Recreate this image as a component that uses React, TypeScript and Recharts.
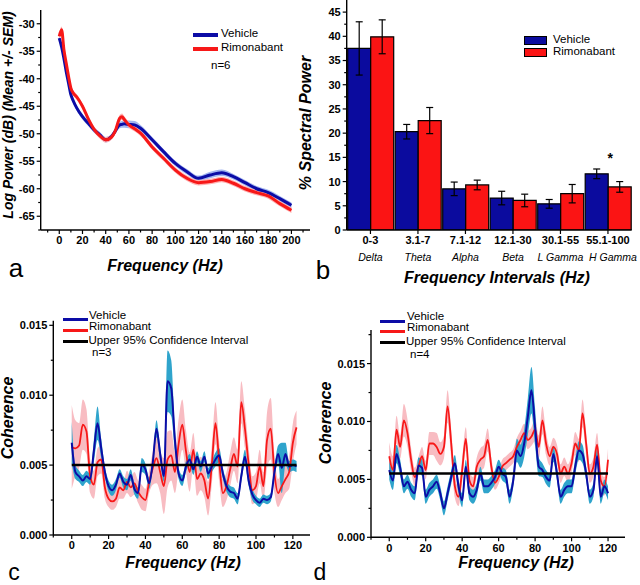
import type { ReactNode } from 'react';
import {
  ComposedChart,
  BarChart,
  Bar,
  Line,
  Area,
  XAxis,
  YAxis,
  ErrorBar,
  LabelList,
  ReferenceLine,
} from 'recharts';

const FONT = '"Liberation Sans", Arial, Helvetica, sans-serif';

// ---- panel a: power spectrum (dB)
const psdFreq = [0, 2, 4, 6, 8, 10, 12, 15, 20, 25, 30, 35, 40, 45, 48, 52, 54, 56, 60, 65, 70, 80, 90, 100, 110, 120, 130, 140, 150, 160, 170, 180, 190, 200];
const psdVehicle = [-32.6, -34.2, -36.3, -38.7, -40.8, -42.9, -44.0, -45.3, -46.9, -48.1, -49.3, -50.2, -51.1, -50.5, -49.6, -48.4, -48.3, -48.2, -48.3, -48.4, -49.0, -51.1, -53.3, -55.4, -56.9, -58.1, -57.5, -57.1, -57.8, -58.9, -60.0, -60.7, -61.8, -63.0];
const psdVehicleSem = [0.5, 0.5, 0.5, 0.5, 0.5, 0.5, 0.5, 0.5, 0.5, 0.5, 0.5, 0.5, 0.5, 0.5, 0.5, 0.6, 0.6, 0.7, 0.7, 0.7, 0.6, 0.5, 0.5, 0.5, 0.5, 0.5, 0.6, 0.6, 0.5, 0.5, 0.5, 0.5, 0.5, 0.5];
const psdRimo = [-32.3, -31.1, -34.7, -37.2, -39.6, -41.7, -42.6, -43.3, -45.0, -47.3, -49.2, -50.4, -51.1, -50.6, -49.6, -47.2, -46.9, -47.4, -48.4, -49.1, -49.9, -52.4, -54.5, -56.6, -58.1, -58.9, -58.7, -58.3, -59.0, -60.0, -60.7, -61.3, -62.7, -63.9];
const psdRimoSem = [0.5, 0.6, 0.5, 0.5, 0.5, 0.5, 0.5, 0.5, 0.5, 0.5, 0.5, 0.5, 0.5, 0.5, 0.5, 0.6, 0.6, 0.6, 0.5, 0.5, 0.5, 0.5, 0.5, 0.5, 0.5, 0.5, 0.5, 0.5, 0.5, 0.5, 0.5, 0.5, 0.5, 0.5];
const psdXTicks = [-10, 0, 10, 20, 30, 40, 50, 60, 70, 80, 90, 100, 110, 120, 130, 140, 150, 160, 170, 180, 190, 200, 210];
const psdYTicks = [-67.5, -65, -62.5, -60, -57.5, -55, -52.5, -50, -47.5, -45, -42.5, -40, -37.5, -35, -32.5, -30];

// ---- panel b: % spectral power per band
const bandRanges = ['0-3', '3.1-7', '7.1-12', '12.1-30', '30.1-55', '55.1-100'];
const bandNames = ['Delta', 'Theta', 'Alpha', 'Beta', 'L Gamma', 'H Gamma'];
const bandVehicle = [37.5, 20.3, 8.5, 6.6, 5.4, 11.6];
const bandVehicleSem = [5.5, 1.5, 1.4, 1.4, 0.9, 1.0];
const bandRimo = [39.9, 22.6, 9.3, 6.1, 7.5, 8.9];
const bandRimoSem = [3.5, 2.7, 1.0, 1.3, 1.9, 1.1];
const bandSig = ['', '', '', '', '', '*'];
const bandYTicks = [0, 2.5, 5, 7.5, 10, 12.5, 15, 17.5, 20, 22.5, 25, 27.5, 30, 32.5, 35, 37.5, 40, 42.5, 45];

// ---- panel c: coherence, n=3
const cohFreqC = [0, 2, 4, 6, 8, 10, 12, 14, 16, 18, 20, 22, 24, 26, 28, 30, 32, 34, 36, 38, 40, 42, 44, 46, 48, 50, 52, 54, 56, 58, 60, 62, 64, 66, 68, 70, 72, 74, 76, 78, 80, 82, 84, 86, 88, 90, 92, 94, 96, 98, 100, 102, 104, 106, 108, 110, 112, 114, 116, 118, 120, 122];
const cohVehicleC = [0.0066, 0.0045, 0.0042, 0.0039, 0.0042, 0.0040, 0.0060, 0.0080, 0.0062, 0.0045,
  0.0035, 0.0032, 0.0036, 0.0044, 0.0038, 0.0036, 0.0043, 0.0033, 0.0030, 0.0050,
  0.0047, 0.0037, 0.0052, 0.0076, 0.0058, 0.0042, 0.0110, 0.0105, 0.0068, 0.0044,
  0.0039, 0.0049, 0.0054, 0.0047, 0.0056, 0.0049, 0.0056, 0.0044, 0.0049, 0.0054,
  0.0057, 0.0044, 0.0035, 0.0031, 0.0030, 0.0026, 0.0042, 0.0056, 0.0039, 0.0029,
  0.0025, 0.0023, 0.0026, 0.0025, 0.0027, 0.0045, 0.0058, 0.0048, 0.0058, 0.0049,
  0.0050, 0.0049];
const cohVehicleSemC = [0.0015, 0.0005, 0.0004, 0.0004, 0.0004, 0.0004, 0.0008, 0.0012, 0.0007, 0.0004,
  0.0004, 0.0004, 0.0004, 0.0003, 0.0004, 0.0004, 0.0004, 0.0004, 0.0004, 0.0005,
  0.0004, 0.0004, 0.0004, 0.0006, 0.0005, 0.0004, 0.0022, 0.0020, 0.0008, 0.0004,
  0.0004, 0.0004, 0.0004, 0.0004, 0.0004, 0.0004, 0.0004, 0.0004, 0.0004, 0.0005,
  0.0005, 0.0004, 0.0004, 0.0004, 0.0004, 0.0004, 0.0004, 0.0005, 0.0004, 0.0004,
  0.0003, 0.0003, 0.0003, 0.0003, 0.0003, 0.0004, 0.0006, 0.0018, 0.0008, 0.0004,
  0.0004, 0.0004];
const cohRimoC = [0.0063, 0.0062, 0.0064, 0.0079, 0.0074, 0.0042, 0.0036, 0.0052, 0.0054, 0.0034,
  0.0026, 0.0024, 0.0026, 0.0034, 0.0032, 0.0038, 0.0034, 0.0037, 0.0031, 0.0027,
  0.0025, 0.0038, 0.0048, 0.0055, 0.0045, 0.0035, 0.0054, 0.0057, 0.0045, 0.0065,
  0.0079, 0.0060, 0.0045, 0.0061, 0.0040, 0.0044, 0.0039, 0.0026, 0.0050, 0.0080,
  0.0053, 0.0030, 0.0035, 0.0047, 0.0058, 0.0049, 0.0095, 0.0076, 0.0051, 0.0032,
  0.0035, 0.0049, 0.0035, 0.0068, 0.0076, 0.0044, 0.0030, 0.0035, 0.0040, 0.0045,
  0.0066, 0.0077];
const cohRimoSemC = [0.0030, 0.0020, 0.0016, 0.0018, 0.0016, 0.0012, 0.0010, 0.0010, 0.0010, 0.0008,
  0.0006, 0.0006, 0.0006, 0.0008, 0.0006, 0.0008, 0.0007, 0.0008, 0.0008, 0.0009,
  0.0008, 0.0008, 0.0012, 0.0018, 0.0015, 0.0020, 0.0020, 0.0018, 0.0015, 0.0018,
  0.0018, 0.0015, 0.0014, 0.0012, 0.0012, 0.0012, 0.0012, 0.0012, 0.0014, 0.0015,
  0.0014, 0.0010, 0.0010, 0.0012, 0.0012, 0.0012, 0.0015, 0.0014, 0.0012, 0.0010,
  0.0010, 0.0012, 0.0010, 0.0020, 0.0022, 0.0014, 0.0010, 0.0010, 0.0010, 0.0012,
  0.0014, 0.0012];
const ciC = 0.005;

// ---- panel d: coherence, n=4
const cohFreqD = [0, 2, 4, 6, 8, 10, 12, 14, 16, 18, 20, 22, 24, 26, 28, 30, 32, 34, 36, 38, 40, 42, 44, 46, 48, 50, 52, 54, 56, 58, 60, 62, 64, 66, 68, 70, 72, 74, 76, 78, 80, 82, 84, 86, 88, 90, 92, 94, 96, 98, 100, 102, 104, 106, 108, 110, 112, 114, 116, 118, 120];
const cohVehicleD = [0.0058, 0.0049, 0.0072, 0.0060, 0.0044, 0.0048, 0.0041, 0.0038, 0.0062, 0.0060,
  0.0035, 0.0041, 0.0044, 0.0048, 0.0038, 0.0025, 0.0038, 0.0052, 0.0064, 0.0044,
  0.0032, 0.0061, 0.0038, 0.0035, 0.0041, 0.0055, 0.0044, 0.0044, 0.0047, 0.0052,
  0.0061, 0.0055, 0.0052, 0.0035, 0.0049, 0.0075, 0.0070, 0.0081, 0.0104, 0.0127,
  0.0095, 0.0061, 0.0058, 0.0052, 0.0049, 0.0072, 0.0055, 0.0035, 0.0041, 0.0044,
  0.0044, 0.0061, 0.0075, 0.0072, 0.0055, 0.0035, 0.0041, 0.0070, 0.0035, 0.0044,
  0.0038];
const cohVehicleSemD = [0.0008, 0.0008, 0.0008, 0.0007, 0.0006, 0.0006, 0.0006, 0.0006, 0.0007, 0.0007,
  0.0006, 0.0006, 0.0006, 0.0006, 0.0006, 0.0006, 0.0006, 0.0006, 0.0007, 0.0006,
  0.0006, 0.0006, 0.0006, 0.0006, 0.0006, 0.0006, 0.0006, 0.0006, 0.0006, 0.0006,
  0.0006, 0.0006, 0.0006, 0.0006, 0.0006, 0.0010, 0.0010, 0.0012, 0.0016, 0.0020,
  0.0016, 0.0008, 0.0006, 0.0006, 0.0006, 0.0007, 0.0006, 0.0006, 0.0006, 0.0006,
  0.0006, 0.0007, 0.0008, 0.0008, 0.0006, 0.0006, 0.0006, 0.0007, 0.0006, 0.0006,
  0.0006];
const cohRimoD = [0.0070, 0.0058, 0.0093, 0.0078, 0.0101, 0.0090, 0.0067, 0.0052, 0.0061, 0.0070,
  0.0058, 0.0081, 0.0081, 0.0078, 0.0072, 0.0078, 0.0113, 0.0081, 0.0044, 0.0035,
  0.0058, 0.0085, 0.0049, 0.0044, 0.0061, 0.0067, 0.0070, 0.0084, 0.0061, 0.0047,
  0.0052, 0.0061, 0.0064, 0.0067, 0.0070, 0.0078, 0.0084, 0.0090, 0.0084, 0.0087,
  0.0093, 0.0078, 0.0101, 0.0081, 0.0070, 0.0078, 0.0072, 0.0055, 0.0061, 0.0055,
  0.0064, 0.0081, 0.0075, 0.0107, 0.0081, 0.0055, 0.0061, 0.0080, 0.0049, 0.0044,
  0.0067];
const cohRimoSemD = [0.0012, 0.0012, 0.0012, 0.0010, 0.0014, 0.0012, 0.0010, 0.0008, 0.0008, 0.0008,
  0.0008, 0.0010, 0.0010, 0.0012, 0.0010, 0.0010, 0.0014, 0.0012, 0.0010, 0.0008,
  0.0010, 0.0010, 0.0008, 0.0008, 0.0008, 0.0010, 0.0010, 0.0010, 0.0008, 0.0006,
  0.0006, 0.0006, 0.0006, 0.0006, 0.0006, 0.0008, 0.0008, 0.0008, 0.0008, 0.0008,
  0.0010, 0.0010, 0.0012, 0.0010, 0.0008, 0.0008, 0.0008, 0.0008, 0.0008, 0.0008,
  0.0008, 0.0010, 0.0010, 0.0012, 0.0010, 0.0008, 0.0008, 0.0010, 0.0008, 0.0008,
  0.0010];
const ciD = 0.0055;

const cohXTicks = [-10, 0, 10, 20, 30, 40, 50, 60, 70, 80, 90, 100, 110, 120];
const cohYTicksC = [0, 0.0025, 0.005, 0.0075, 0.01, 0.0125, 0.015];
const cohYTicksD = [0, 0.0025, 0.005, 0.0075, 0.01, 0.0125, 0.015, 0.0175];

// colours
const BLUE = '#0c0ca6';
const RED = '#f71818';
const CYAN = '#2fa4cc';
const PINK = '#f8bcc2';

const psdRows = psdFreq.map((f, i) => ({
  f,
  v: psdVehicle[i],
  r: psdRimo[i],
  vBand: [psdVehicle[i] - psdVehicleSem[i], psdVehicle[i] + psdVehicleSem[i]],
  rBand: [psdRimo[i] - psdRimoSem[i], psdRimo[i] + psdRimoSem[i]],
}));

const bandRows = bandRanges.map((band, i) => ({
  band,
  v: bandVehicle[i],
  vErr: bandVehicleSem[i],
  r: bandRimo[i],
  rErr: bandRimoSem[i],
  sig: bandSig[i],
}));

const cohRows = (freq: number[], v: number[], vs: number[], r: number[], rs: number[]) =>
  freq.map((f, i) => ({
    f,
    v: v[i],
    r: r[i],
    vBand: [v[i] - vs[i], v[i] + vs[i]],
    rBand: [r[i] - rs[i], r[i] + rs[i]],
  }));

const rowsC = cohRows(cohFreqC, cohVehicleC, cohVehicleSemC, cohRimoC, cohRimoSemC);
const rowsD = cohRows(cohFreqD, cohVehicleD, cohVehicleSemD, cohRimoD, cohRimoSemD);

const isMultiple = (step: number) => (v: number) => Math.abs(v / step - Math.round(v / step)) < 1e-6;

// tick renderers: axis tickSize/tickMargin are 0 so x/y is the axis line itself
function makeXTick(major: (v: number) => boolean, fmt: (v: number) => string) {
  return (p: any) => {
    const v = p.payload.value;
    const big = major(v);
    return (
      <g>
        <line x1={p.x} x2={p.x} y1={p.y} y2={p.y + (big ? 4 : 2.5)} stroke="#000" strokeWidth={1.2} />
        {big && (
          <text x={p.x} y={p.y + 6} dy="0.75em" textAnchor="middle" fontSize={11} fontWeight="bold" fontFamily={FONT} fill="#000">
            {fmt(v)}
          </text>
        )}
      </g>
    );
  };
}

function makeYTick(major: (v: number) => boolean, fmt: (v: number) => string) {
  return (p: any) => {
    const v = p.payload.value;
    const big = major(v);
    return (
      <g>
        <line x1={p.x} x2={p.x - (big ? 4 : 2.5)} y1={p.y} y2={p.y} stroke="#000" strokeWidth={1.2} />
        {big && (
          <text x={p.x - 6} y={p.y} dy="0.36em" textAnchor="end" fontSize={11} fontWeight="bold" fontFamily={FONT} fill="#000">
            {fmt(v)}
          </text>
        )}
      </g>
    );
  };
}

const BandTick = (p: any) => {
  const i = bandRanges.indexOf(p.payload.value);
  // last band name sits a little to the right in the original, leaving a gap after "L Gamma"
  const nameShift = i === bandNames.length - 1 ? 5 : 0;
  return (
    <g>
      <line x1={p.x} x2={p.x} y1={p.y} y2={p.y + 4} stroke="#000" strokeWidth={1.2} />
      <text x={p.x} y={p.y + 6} dy="0.75em" textAnchor="middle" fontSize={11} fontWeight="bold" fontFamily={FONT} fill="#000">
        {bandRanges[i]}
      </text>
      <text x={p.x + nameShift} y={p.y + 31} textAnchor="middle" fontSize={10.5} fontStyle="italic" fontFamily={FONT} fill="#000">
        {bandNames[i]}
      </text>
    </g>
  );
};

const axisLine = { stroke: '#000', strokeWidth: 1.4 };

// small html helpers for titles / legends
function Txt({ x, y, size = 12, bold = false, italic = false, rotate = 0, anchor = 'middle', lh = 1, children }: {
  x: number; y: number; size?: number; bold?: boolean; italic?: boolean; rotate?: number; anchor?: 'start' | 'middle'; lh?: number; children: ReactNode;
}) {
  const tx = anchor === 'middle' ? '-50%' : '0';
  return (
    <div
      style={{
        position: 'absolute',
        left: x,
        top: y,
        transform: `translate(${tx}, -50%) rotate(${rotate}deg)`,
        transformOrigin: anchor === 'middle' ? 'center' : 'left center',
        fontSize: size,
        fontWeight: bold ? 'bold' : 'normal',
        fontStyle: italic ? 'italic' : 'normal',
        fontFamily: FONT,
        lineHeight: lh,
        whiteSpace: 'nowrap',
        color: '#000',
      }}
    >
      {children}
    </div>
  );
}

function Swatch({ x, y, w, h, color, border = false }: { x: number; y: number; w: number; h: number; color: string; border?: boolean }) {
  return (
    <div
      style={{
        position: 'absolute',
        left: x,
        top: y - h / 2,
        width: w,
        height: h,
        background: color,
        boxSizing: 'border-box',
        border: border ? '1px solid #000' : 'none',
      }}
    />
  );
}

function PsdChart() {
  return (
    <ComposedChart width={320} height={290} data={psdRows} margin={{ top: 10, right: 10, left: 0, bottom: 30 }}>
      <XAxis
        dataKey="f"
        type="number"
        domain={[-16, 216]}
        ticks={psdXTicks}
        interval={0}
        allowDataOverflow
        height={30}
        axisLine={axisLine}
        tickLine={false}
        tickSize={0}
        tickMargin={0}
        tick={makeXTick(isMultiple(20), (v) => String(v))}
      />
      <YAxis
        type="number"
        domain={[-67.5, -27.5]}
        ticks={psdYTicks}
        interval={0}
        allowDataOverflow
        width={40.7}
        axisLine={axisLine}
        tickLine={false}
        tickSize={0}
        tickMargin={0}
        tick={makeYTick(isMultiple(5), (v) => String(v))}
      />
      <Area dataKey="vBand" type="monotone" stroke="none" fill="#a3b6f0" fillOpacity={1} isAnimationActive={false} />
      <Area dataKey="rBand" type="monotone" stroke="none" fill="#ffb0b0" fillOpacity={1} isAnimationActive={false} />
      <Line dataKey="v" type="monotone" stroke={BLUE} strokeWidth={3} dot={false} isAnimationActive={false} />
      <Line dataKey="r" type="monotone" stroke={RED} strokeWidth={3} dot={false} isAnimationActive={false} />
    </ComposedChart>
  );
}

function BandChart() {
  return (
    <BarChart
      width={350}
      height={290}
      data={bandRows}
      margin={{ top: 0, right: 8.3, left: 0, bottom: 30 }}
      barCategoryGap={1}
      barGap={0}
    >
      <XAxis dataKey="band" height={30} axisLine={axisLine} tickLine={false} tickSize={0} tickMargin={0} interval={0} tick={BandTick} />
      <YAxis
        type="number"
        domain={[0, 47.5]}
        ticks={bandYTicks}
        interval={0}
        allowDataOverflow
        width={56.7}
        axisLine={axisLine}
        tickLine={false}
        tickSize={0}
        tickMargin={0}
        tick={makeYTick(isMultiple(5), (v) => String(v))}
      />
      <Bar dataKey="v" fill="#0b0b9e" stroke="#000" strokeWidth={1.2} isAnimationActive={false}>
        <ErrorBar dataKey="vErr" width={3.5} stroke="#000" strokeWidth={1.2} />
      </Bar>
      <Bar dataKey="r" fill="#fb1414" stroke="#000" strokeWidth={1.2} isAnimationActive={false}>
        <ErrorBar dataKey="rErr" width={3.5} stroke="#000" strokeWidth={1.2} />
        <LabelList
          dataKey="sig"
          content={(p: any) =>
            p.value ? (
              <text x={Number(p.x) + 2} y={Number(p.y) - 24} textAnchor="middle" fontSize={14} fontWeight="bold" fontFamily={FONT} fill="#000">
                {p.value}
              </text>
            ) : null
          }
        />
      </Bar>
    </BarChart>
  );
}

function CoherenceChart({ rows, yMax, yTicks, ci, ciEnd, margin, yWidth }: {
  rows: any[]; yMax: number; yTicks: number[]; ci: number; ciEnd: number;
  margin: { top: number; right: number; left: number; bottom: number }; yWidth: number;
}) {
  return (
    <ComposedChart width={320} height={285} data={rows} margin={margin}>
      <XAxis
        dataKey="f"
        type="number"
        domain={[-10, 129.3]}
        ticks={cohXTicks}
        interval={0}
        allowDataOverflow
        height={30}
        axisLine={axisLine}
        tickLine={false}
        tickSize={0}
        tickMargin={0}
        tick={makeXTick(isMultiple(20), (v) => String(v))}
      />
      <YAxis
        type="number"
        domain={[0, yMax]}
        ticks={yTicks}
        interval={0}
        allowDataOverflow
        width={yWidth}
        axisLine={axisLine}
        tickLine={false}
        tickSize={0}
        tickMargin={0}
        tick={makeYTick(isMultiple(0.005), (v) => v.toFixed(3))}
      />
      <Area dataKey="rBand" type="monotone" stroke="none" fill={PINK} fillOpacity={1} isAnimationActive={false} />
      <Area dataKey="vBand" type="monotone" stroke="none" fill={CYAN} fillOpacity={1} isAnimationActive={false} />
      <Line dataKey="r" type="monotone" stroke={RED} strokeWidth={1.8} dot={false} isAnimationActive={false} />
      <Line dataKey="v" type="monotone" stroke={BLUE} strokeWidth={2} dot={false} isAnimationActive={false} />
      <ReferenceLine
        segment={[{ x: 0, y: ci }, { x: ciEnd, y: ci }]}
        stroke="#000"
        strokeWidth={2.5}
      />
    </ComposedChart>
  );
}

export default function App() {
  return (
    <div
      style={{
        position: 'absolute',
        left: 0,
        top: 0,
        width: 640,
        height: 585,
        overflow: 'hidden',
        background: '#fff',
        fontFamily: FONT,
      }}
    >
      {/* a */}
      <div style={{ position: 'absolute', left: 0, top: 0 }}>
        <PsdChart />
      </div>
      <Txt x={8} y={115} size={14} bold italic rotate={-90}>Log Power (dB) (Mean +/- SEM)</Txt>
      <Txt x={165} y={266} size={16} bold italic>Frequency (Hz)</Txt>
      <Txt x={16} y={268} size={26}>a</Txt>
      <Swatch x={193} y={34.7} w={25} h={4} color={BLUE} />
      <Txt x={221} y={34} size={11.5} lh={0.85} anchor="start">Vehicle</Txt>
      <Swatch x={193} y={48.7} w={25} h={4} color={RED} />
      <Txt x={221} y={48} size={11.5} lh={0.85} anchor="start">Rimonabant</Txt>
      <Txt x={211} y={66} size={11.5} lh={0.85} anchor="start">n=6</Txt>

      {/* b */}
      <div style={{ position: 'absolute', left: 290, top: 0 }}>
        <BandChart />
      </div>
      <Txt x={306} y={123} size={16} bold italic rotate={-90}>% Spectral Power</Txt>
      <Txt x={497} y={278} size={16} bold italic>Frequency Intervals (Hz)</Txt>
      <Txt x={323} y={270} size={26}>b</Txt>
      <Swatch x={524} y={40.5} w={23} h={9.5} color="#0b0b9e" border />
      <Txt x={553} y={40} size={11.5} lh={0.85} anchor="start">Vehicle</Txt>
      <Swatch x={524} y={52.5} w={23} h={9.5} color="#fb1414" border />
      <Txt x={553} y={52} size={11.5} lh={0.85} anchor="start">Rimonabant</Txt>

      {/* c */}
      <div style={{ position: 'absolute', left: 0, top: 300 }}>
        <CoherenceChart
          rows={rowsC}
          yMax={0.01533}
          yTicks={cohYTicksC}
          ci={ciC}
          ciEnd={122}
          margin={{ top: 20.7, right: 10, left: 0, bottom: 20 }}
          yWidth={53.3}
        />
      </div>
      <Txt x={8} y={418} size={16} bold italic rotate={-90}>Coherence</Txt>
      <Txt x={183} y={563} size={16} bold italic>Frequency (Hz)</Txt>
      <Txt x={14} y={572} size={23}>c</Txt>
      <Swatch x={63} y={319.3} w={25} h={3} color={BLUE} />
      <Txt x={89} y={316} size={11.5} lh={0.85} anchor="start">Vehicle</Txt>
      <Swatch x={63} y={330.7} w={25} h={3} color={RED} />
      <Txt x={89} y={326.9} size={11.5} lh={0.85} anchor="start">Rimonabant</Txt>
      <Swatch x={63} y={341.3} w={25} h={3} color="#000" />
      <Txt x={88.5} y={340.5} size={11.5} lh={0.85} anchor="start">Upper 95% Confidence Interval</Txt>
      <Txt x={92} y={353} size={11.5} lh={0.85} anchor="start">n=3</Txt>

      {/* d */}
      <div style={{ position: 'absolute', left: 320, top: 300 }}>
        <CoherenceChart
          rows={rowsD}
          yMax={0.0179}
          yTicks={cohYTicksD}
          ci={ciD}
          ciEnd={120}
          margin={{ top: 30, right: 15, left: 0, bottom: 17.7 }}
          yWidth={51}
        />
      </div>
      <Txt x={326} y={423} size={16} bold italic rotate={-90}>Coherence</Txt>
      <Txt x={516} y={563} size={16} bold italic>Frequency (Hz)</Txt>
      <Txt x={320} y={572} size={23}>d</Txt>
      <Swatch x={380} y={321.7} w={25} h={3} color={BLUE} />
      <Txt x={407} y={316.5} size={11.5} lh={0.85} anchor="start">Vehicle</Txt>
      <Swatch x={380} y={331.7} w={25} h={3} color={RED} />
      <Txt x={407} y={327.5} size={11.5} lh={0.85} anchor="start">Rimonabant</Txt>
      <Swatch x={380} y={342.3} w={25} h={3} color="#000" />
      <Txt x={406} y={342} size={11.5} lh={0.85} anchor="start">Upper 95% Confidence Interval</Txt>
      <Txt x={410} y={355} size={11.5} lh={0.85} anchor="start">n=4</Txt>
    </div>
  );
}
